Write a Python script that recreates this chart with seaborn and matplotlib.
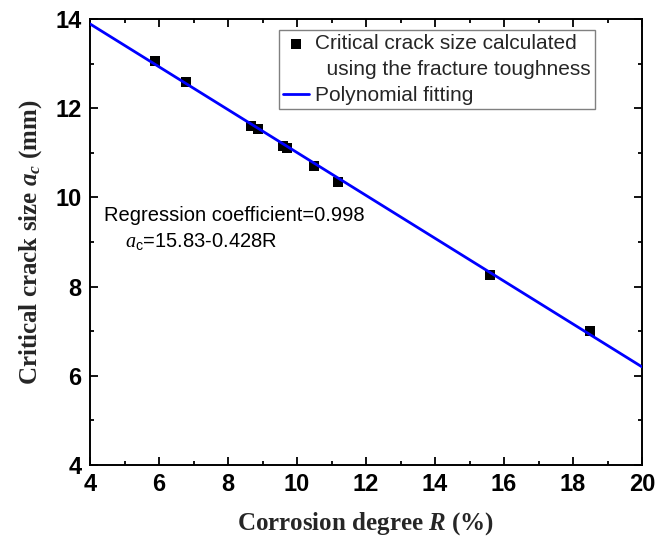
import matplotlib
matplotlib.use("Agg")
import matplotlib.pyplot as plt
import seaborn as sns
import pandas as pd
from matplotlib.ticker import MultipleLocator
from matplotlib.lines import Line2D

# Data
corrosion_degree = [5.88, 6.78, 8.67, 8.88, 9.60, 9.70, 10.49, 11.20, 15.59, 18.49]
crack_size = [13.06, 12.58, 11.61, 11.53, 11.15, 11.11, 10.70, 10.34, 8.26, 7.01]
fit_x = [4.0, 20.0]
fit_y = [13.89, 6.20]
x_ticks = [4, 6, 8, 10, 12, 14, 16, 18, 20]
y_ticks = [4, 6, 8, 10, 12, 14]

sns.set_theme(style="ticks")
plt.rcParams['font.family'] = ['Liberation Sans', 'DejaVu Sans']
plt.rcParams['mathtext.fontset'] = 'custom'
plt.rcParams['mathtext.rm'] = 'Liberation Serif'
plt.rcParams['mathtext.it'] = 'Liberation Serif:italic'
plt.rcParams['mathtext.bf'] = 'Liberation Serif:bold'
plt.rcParams['mathtext.bfit'] = 'Liberation Serif:bold:italic'
plt.rcParams['mathtext.sf'] = 'Liberation Sans'

fig = plt.figure(figsize=(6.72, 5.44), dpi=100)
ax = fig.add_axes([90/672, 1-465/544, (642-90)/672, (465-19)/544])

df_pts = pd.DataFrame({"R": corrosion_degree, "ac": crack_size})
df_fit = pd.DataFrame({"R": fit_x, "ac": fit_y})

sns.lineplot(data=df_fit, x="R", y="ac", ax=ax, color=(0, 0, 1), linewidth=2.0,
             label="Polynomial fitting", zorder=3)
sns.scatterplot(data=df_pts, x="R", y="ac", ax=ax, marker="s", color="black",
                s=55, edgecolor="black", linewidth=0,
                label="Critical crack size calculated", zorder=2)

ax.set_xlim(4, 20)
ax.set_ylim(4, 14)
ax.set_xticks(x_ticks)
ax.set_yticks(y_ticks)
ax.xaxis.set_minor_locator(MultipleLocator(1))
ax.yaxis.set_minor_locator(MultipleLocator(1))
ax.tick_params(which="both", direction="in", top=True, right=True, width=1.3, color="black")
ax.tick_params(which="major", length=6)
ax.tick_params(which="minor", length=3)

tick_font = dict(family=['Liberation Sans Narrow', 'Liberation Sans'], weight='bold', size=17)
ax.set_xticklabels([str(t) for t in x_ticks], fontdict=tick_font)
ax.set_yticklabels([str(t) for t in y_ticks], fontdict=tick_font)
ax.tick_params(axis='both', pad=6, labelcolor='black')

for sp in ax.spines.values():
    sp.set_linewidth(1.4)
    sp.set_color("black")

ax.set_xlabel("Corrosion degree $\\mathbfit{R}$ (%)", family='Liberation Serif',
              weight='bold', size=18, labelpad=10)
ax.set_ylabel("Critical crack size $\\mathbfit{a_c}$ (mm)", family='Liberation Serif',
              weight='bold', size=18, labelpad=8)

# Legend: points (two-line label with indented second line), then fit
handles, labels = ax.get_legend_handles_labels()
h_line = handles[0]
h_pts = handles[1]
blank = Line2D([], [], linestyle='none', marker=None, alpha=0)
leg = ax.legend([h_pts, blank, h_line],
                ["Critical crack size calculated", "  using the fracture toughness",
                 "Polynomial fitting"],
                loc="upper right", bbox_to_anchor=(0.915, 0.975),
                frameon=True, fancybox=False, edgecolor="gray", framealpha=1,
                fontsize=15, handlelength=1.25, handletextpad=0.3,
                borderpad=0.2, labelspacing=0.33, borderaxespad=0)
leg.get_frame().set_linewidth(1.0)

ax.text(0.025, 0.5605, "Regression coefficient=0.998", transform=ax.transAxes,
        fontsize=14.5, color="black", va="center", ha="left")
ax.text(0.063, 0.50, "$\\mathit{a}_{\\mathsf{c}}$=15.83-0.428R", transform=ax.transAxes,
        fontsize=14.5, color="black", va="center", ha="left")

fig.savefig("out.png", dpi=100)
